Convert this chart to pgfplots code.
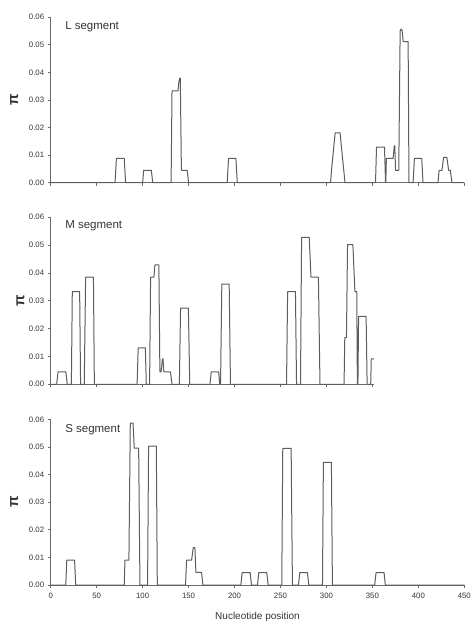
\documentclass[border=0pt]{standalone}
\usepackage{fontspec}
\setmainfont{Liberation Sans}
\usepackage{pgfplots}
\pgfplotsset{compat=1.18}
\definecolor{axisgray}{HTML}{6A6A6A}
\definecolor{datagray}{HTML}{5C5C5C}
\definecolor{txtgray}{HTML}{333333}
\tikzset{
  seglabel/.style={anchor=west, font=\fontsize{11.5}{13}\selectfont, text=txtgray},
}
\pgfplotsset{
  panel/.style={
    scale only axis,
    xmin=0, ymin=0, ymax=0.06,
    axis x line=bottom, axis y line=left,
    axis line style={-, draw=axisgray, line width=0.9pt},
    tick style={draw=axisgray, line width=0.8pt},
    major tick length=3pt,
    tick align=outside,
    ytick={0,0.01,0.02,0.03,0.04,0.05,0.06},
    scaled y ticks=false,
    /pgf/number format/assume math mode=true,
    yticklabel style={/pgf/number format/fixed, /pgf/number format/fixed zerofill, /pgf/number format/precision=2},
    xticklabel style={yshift=-1.5pt},
    tick label style={font=\fontsize{7.8}{9}\selectfont, text=txtgray},
    ylabel={\textbf{π}},
    ylabel style={font=\fontsize{15}{16}\selectfont, text=txtgray, at={(axis description cs:-0.07,0.5)}, anchor=south},
    clip=false,
  },
  dline/.style={datagray, line width=1pt, line join=round, no marks},
}
\begin{document}
\begin{tikzpicture}
\useasboundingbox (0,0) rectangle (474pt,-622pt);
% L segment
\begin{axis}[panel, at={(50.7pt,-182.7pt)}, anchor=south west,
  width=413.6pt, height=165.4pt, xmax=450,
  xtick={0,50,...,450}, xticklabels={}]
\addplot[dline] coordinates {
(0,0)(70,0)(71.5,0.0088)(80,0.0088)(81.5,0)
(100,0)(101.2,0.0045)(109.5,0.0045)(111,0)
(131,0)(132,0.0333)(138.5,0.0333)(139.3,0.036)(140.2,0.0379)(141,0.0379)(142.2,0.0045)(148.5,0.0045)(150,0)
(192,0)(193.5,0.0088)(201.5,0.0088)(203,0)
(304.5,0)(305.5,0.0045)(309.5,0.0181)(314.8,0.0181)(320.2,0)
(353.4,0)(354.5,0.0129)(363.2,0.0129)(364.3,0)(364.6,0)(365.2,0.0088)(372.5,0.0088)(373.2,0.0110)(373.8,0.0134)(374.4,0.0134)(375.2,0.0045)(378.7,0.0045)(380.2,0.0550)(380.8,0.0556)(382,0.0556)(382.6,0.0545)(383.5,0.0512)(388.9,0.0512)(389.8,0)
(394.3,0)(395.7,0.0088)(403.7,0.0088)(405.1,0)
(421.4,0)(422.6,0.0045)(425.7,0.0045)(427.5,0.0092)(431,0.0092)(433,0.0045)(434.8,0.0045)(436.6,0)(450,0)
};
\node[seglabel] at (axis cs:12,0.0565) {L segment};
\end{axis}
% M segment
\begin{axis}[panel, at={(50.7pt,-384.3pt)}, anchor=south west,
  width=323.5pt, height=167pt, xmax=352,
  xtick={0,50,...,350}, xticklabels={}]
\addplot[dline] coordinates {
(0,0)(6.5,0)(8,0.0045)(16.5,0.0045)(18,0)
(22.5,0)(23.5,0.0333)(31.5,0.0333)(32.5,0)
(36.5,0)(38,0.0385)(46.5,0.0385)(47.5,0)
(94,0)(95.2,0.0131)(103,0.0131)(104,0)
(107.6,0)(108.7,0.0385)(112.3,0.0385)(113.4,0.0429)(117.7,0.0429)(118.8,0.0045)(120.2,0.0045)(121.5,0.0091)(122.2,0.0091)(123.1,0.0045)(130.3,0.0045)(132,0)
(140,0)(141.3,0.0274)(149.8,0.0274)(151.3,0)
(173.3,0)(174.7,0.0045)(182.7,0.0045)(184,0)(184.8,0)(186.2,0.036)(194.2,0.036)(195.6,0)
(256.6,0)(257.8,0.0333)(266.3,0.0333)(267.5,0)
(271.8,0)(273,0.0528)(281.3,0.0528)(283.2,0.0385)(291.3,0.0385)(293,0)
(319.2,0)(320,0.0168)(321.8,0.0168)(323,0.0502)(328.8,0.0502)(331,0.0333)(333,0.0333)(333.7,0)(334.3,0)(335,0.0244)(343.2,0.0244)(344.3,0)(348.2,0)(348.8,0.0091)(352,0.0091)
};
\node[seglabel] at (axis cs:12,0.057) {M segment};
\end{axis}
% S segment
\begin{axis}[panel, at={(50.7pt,-585pt)}, anchor=south west,
  width=413.6pt, height=165.7pt, xmax=450,
  xtick={0,50,...,450},
  xlabel={Nucleotide position},
  xlabel style={font=\fontsize{10}{12}\selectfont, text=txtgray, yshift=-7pt}]
\addplot[dline] coordinates {
(0,0)(16.4,0)(17.5,0.009)(26,0.009)(27.2,0)
(80,0)(80.8,0.009)(85.1,0.009)(86.6,0.0586)(89.6,0.0586)(90.9,0.0496)(95.7,0.0496)(97.1,0)
(105.4,0)(106.5,0.0503)(114.9,0.0503)(116,0)
(146.7,0)(147.8,0.009)(153.3,0.009)(155.1,0.0135)(156.9,0.0135)(158,0.0046)(164.1,0.0046)(165.6,0)
(206.9,0)(208.3,0.0045)(217,0.0045)(218.5,0)
(225,0)(226.4,0.0045)(235.1,0.0045)(236.6,0)
(251.4,0)(252.5,0.0495)(261.6,0.0495)(263,0)
(269.6,0)(271,0.0045)(279.3,0.0045)(280.8,0)
(295.7,0)(296.7,0.0444)(305.4,0.0444)(306.5,0)
(352.5,0)(354,0.0045)(362.7,0.0045)(364.1,0)(450,0)
};
\node[seglabel] at (axis cs:12,0.0561) {S segment};
\end{axis}
\end{tikzpicture}
\end{document}
